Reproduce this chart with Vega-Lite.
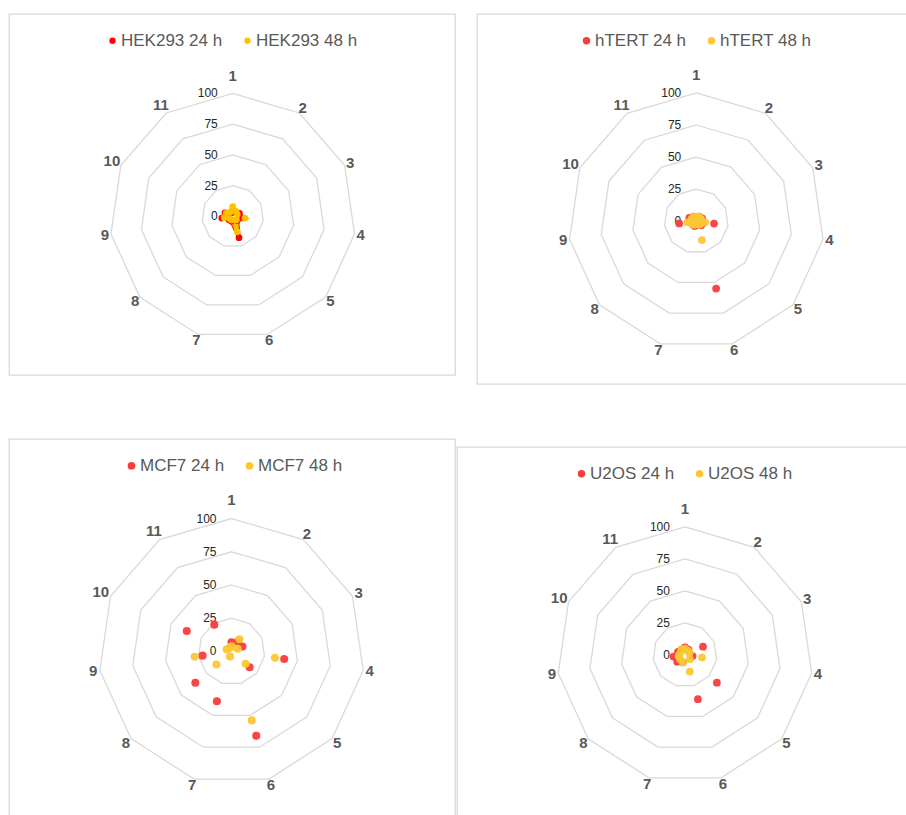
{
  "$schema": "https://vega.github.io/schema/vega-lite/v6.json",
  "padding": {"left": 8, "top": 13, "right": 0, "bottom": 0},
  "background": "white",
  "config": {
    "view": {"stroke": "#d9d9d9", "strokeWidth": 1.3},
    "font": "Liberation Sans"
  },
  "datasets": {
    "grid": [
      {"ring": 25, "spoke": [1, 2, 3, 4, 5, 6, 7, 8, 9, 10, 11]},
      {"ring": 50, "spoke": [1, 2, 3, 4, 5, 6, 7, 8, 9, 10, 11]},
      {"ring": 75, "spoke": [1, 2, 3, 4, 5, 6, 7, 8, 9, 10, 11]},
      {"ring": 100, "spoke": [1, 2, 3, 4, 5, 6, 7, 8, 9, 10, 11]}
    ],
    "rings": [{"ring": 0}, {"ring": 25}, {"ring": 50}, {"ring": 75}, {"ring": 100}],
    "spokes": [{"spoke": 1}, {"spoke": 2}, {"spoke": 3}, {"spoke": 4}, {"spoke": 5}, {"spoke": 6}, {"spoke": 7}, {"spoke": 8}, {"spoke": 9}, {"spoke": 10}, {"spoke": 11}],
    "points": [
      {"panel": "HEK293", "series": "HEK293 24 h", "spoke": 1, "value": 5},
      {"panel": "HEK293", "series": "HEK293 24 h", "spoke": 2, "value": 4},
      {"panel": "HEK293", "series": "HEK293 24 h", "spoke": 3, "value": 6},
      {"panel": "HEK293", "series": "HEK293 24 h", "spoke": 4, "value": 8},
      {"panel": "HEK293", "series": "HEK293 24 h", "spoke": 5, "value": 5},
      {"panel": "HEK293", "series": "HEK293 24 h", "spoke": 6, "value": 18},
      {"panel": "HEK293", "series": "HEK293 24 h", "spoke": 7, "value": 4},
      {"panel": "HEK293", "series": "HEK293 24 h", "spoke": 8, "value": 4},
      {"panel": "HEK293", "series": "HEK293 24 h", "spoke": 9, "value": 9},
      {"panel": "HEK293", "series": "HEK293 24 h", "spoke": 10, "value": 7},
      {"panel": "HEK293", "series": "HEK293 24 h", "spoke": 11, "value": 3},
      {"panel": "HEK293", "series": "HEK293 48 h", "spoke": 1, "value": 8},
      {"panel": "HEK293", "series": "HEK293 48 h", "spoke": 2, "value": 5},
      {"panel": "HEK293", "series": "HEK293 48 h", "spoke": 3, "value": 4},
      {"panel": "HEK293", "series": "HEK293 48 h", "spoke": 4, "value": 10},
      {"panel": "HEK293", "series": "HEK293 48 h", "spoke": 5, "value": 4},
      {"panel": "HEK293", "series": "HEK293 48 h", "spoke": 6, "value": 13},
      {"panel": "HEK293", "series": "HEK293 48 h", "spoke": 7, "value": 3},
      {"panel": "HEK293", "series": "HEK293 48 h", "spoke": 8, "value": 3},
      {"panel": "HEK293", "series": "HEK293 48 h", "spoke": 9, "value": 7},
      {"panel": "HEK293", "series": "HEK293 48 h", "spoke": 10, "value": 6},
      {"panel": "HEK293", "series": "HEK293 48 h", "spoke": 11, "value": 4},
      {"panel": "hTERT", "series": "hTERT 24 h", "spoke": 1, "value": 3},
      {"panel": "hTERT", "series": "hTERT 24 h", "spoke": 2, "value": 4},
      {"panel": "hTERT", "series": "hTERT 24 h", "spoke": 3, "value": 5},
      {"panel": "hTERT", "series": "hTERT 24 h", "spoke": 4, "value": 14},
      {"panel": "hTERT", "series": "hTERT 24 h", "spoke": 5, "value": 5},
      {"panel": "hTERT", "series": "hTERT 24 h", "spoke": 6, "value": 55},
      {"panel": "hTERT", "series": "hTERT 24 h", "spoke": 7, "value": 4},
      {"panel": "hTERT", "series": "hTERT 24 h", "spoke": 8, "value": 4},
      {"panel": "hTERT", "series": "hTERT 24 h", "spoke": 9, "value": 13.5},
      {"panel": "hTERT", "series": "hTERT 24 h", "spoke": 10, "value": 6},
      {"panel": "hTERT", "series": "hTERT 24 h", "spoke": 11, "value": 4},
      {"panel": "hTERT", "series": "hTERT 48 h", "spoke": 1, "value": 3},
      {"panel": "hTERT", "series": "hTERT 48 h", "spoke": 2, "value": 4},
      {"panel": "hTERT", "series": "hTERT 48 h", "spoke": 3, "value": 4},
      {"panel": "hTERT", "series": "hTERT 48 h", "spoke": 4, "value": 7},
      {"panel": "hTERT", "series": "hTERT 48 h", "spoke": 5, "value": 4},
      {"panel": "hTERT", "series": "hTERT 48 h", "spoke": 6, "value": 15.5},
      {"panel": "hTERT", "series": "hTERT 48 h", "spoke": 7, "value": 3},
      {"panel": "hTERT", "series": "hTERT 48 h", "spoke": 8, "value": 4},
      {"panel": "hTERT", "series": "hTERT 48 h", "spoke": 9, "value": 7},
      {"panel": "hTERT", "series": "hTERT 48 h", "spoke": 10, "value": 4},
      {"panel": "hTERT", "series": "hTERT 48 h", "spoke": 11, "value": 4},
      {"panel": "MCF7", "series": "MCF7 24 h", "spoke": 1, "value": 7},
      {"panel": "MCF7", "series": "MCF7 24 h", "spoke": 2, "value": 9},
      {"panel": "MCF7", "series": "MCF7 24 h", "spoke": 3, "value": 9},
      {"panel": "MCF7", "series": "MCF7 24 h", "spoke": 4, "value": 40},
      {"panel": "MCF7", "series": "MCF7 24 h", "spoke": 5, "value": 18},
      {"panel": "MCF7", "series": "MCF7 24 h", "spoke": 6, "value": 66},
      {"panel": "MCF7", "series": "MCF7 24 h", "spoke": 7, "value": 39},
      {"panel": "MCF7", "series": "MCF7 24 h", "spoke": 8, "value": 36},
      {"panel": "MCF7", "series": "MCF7 24 h", "spoke": 9, "value": 22},
      {"panel": "MCF7", "series": "MCF7 24 h", "spoke": 10, "value": 37},
      {"panel": "MCF7", "series": "MCF7 24 h", "spoke": 11, "value": 24},
      {"panel": "MCF7", "series": "MCF7 48 h", "spoke": 1, "value": 4},
      {"panel": "MCF7", "series": "MCF7 48 h", "spoke": 2, "value": 11},
      {"panel": "MCF7", "series": "MCF7 48 h", "spoke": 3, "value": 5},
      {"panel": "MCF7", "series": "MCF7 48 h", "spoke": 4, "value": 33},
      {"panel": "MCF7", "series": "MCF7 48 h", "spoke": 5, "value": 14},
      {"panel": "MCF7", "series": "MCF7 48 h", "spoke": 6, "value": 54},
      {"panel": "MCF7", "series": "MCF7 48 h", "spoke": 7, "value": 4},
      {"panel": "MCF7", "series": "MCF7 48 h", "spoke": 8, "value": 15},
      {"panel": "MCF7", "series": "MCF7 48 h", "spoke": 9, "value": 28},
      {"panel": "MCF7", "series": "MCF7 48 h", "spoke": 10, "value": 4},
      {"panel": "MCF7", "series": "MCF7 48 h", "spoke": 11, "value": 3},
      {"panel": "U2OS", "series": "U2OS 24 h", "spoke": 1, "value": 6},
      {"panel": "U2OS", "series": "U2OS 24 h", "spoke": 2, "value": 5},
      {"panel": "U2OS", "series": "U2OS 24 h", "spoke": 3, "value": 15.5},
      {"panel": "U2OS", "series": "U2OS 24 h", "spoke": 4, "value": 6},
      {"panel": "U2OS", "series": "U2OS 24 h", "spoke": 5, "value": 33},
      {"panel": "U2OS", "series": "U2OS 24 h", "spoke": 6, "value": 36},
      {"panel": "U2OS", "series": "U2OS 24 h", "spoke": 7, "value": 6},
      {"panel": "U2OS", "series": "U2OS 24 h", "spoke": 8, "value": 8},
      {"panel": "U2OS", "series": "U2OS 24 h", "spoke": 9, "value": 9},
      {"panel": "U2OS", "series": "U2OS 24 h", "spoke": 10, "value": 6},
      {"panel": "U2OS", "series": "U2OS 24 h", "spoke": 11, "value": 5},
      {"panel": "U2OS", "series": "U2OS 48 h", "spoke": 1, "value": 5},
      {"panel": "U2OS", "series": "U2OS 48 h", "spoke": 2, "value": 4},
      {"panel": "U2OS", "series": "U2OS 48 h", "spoke": 3, "value": 4},
      {"panel": "U2OS", "series": "U2OS 48 h", "spoke": 4, "value": 13.5},
      {"panel": "U2OS", "series": "U2OS 48 h", "spoke": 5, "value": 5},
      {"panel": "U2OS", "series": "U2OS 48 h", "spoke": 6, "value": 13.5},
      {"panel": "U2OS", "series": "U2OS 48 h", "spoke": 7, "value": 6},
      {"panel": "U2OS", "series": "U2OS 48 h", "spoke": 8, "value": 5},
      {"panel": "U2OS", "series": "U2OS 48 h", "spoke": 9, "value": 5},
      {"panel": "U2OS", "series": "U2OS 48 h", "spoke": 10, "value": 4},
      {"panel": "U2OS", "series": "U2OS 48 h", "spoke": 11, "value": 5}
    ]
  },
  "spacing": 51,
  "resolve": {"scale": {"color": "independent"}, "legend": {"color": "independent"}},
  "vconcat": [
    {
      "spacing": 20,
      "resolve": {"scale": {"color": "independent"}, "legend": {"color": "independent"}},
      "hconcat": [
        {
          "width": 446, "height": 361,
          "encoding": {
            "x": {"field": "x", "type": "quantitative", "scale": {"domain": [-181.9, 180.7], "nice": false, "zero": false}, "axis": null},
            "y": {"field": "y", "type": "quantitative", "scale": {"domain": [-128.9, 164.6], "nice": false, "zero": false}, "axis": null}
          },
          "layer": [
            {
              "data": {"name": "grid"},
              "transform": [{"flatten": ["spoke"]}, {"calculate": "(datum.spoke-1)*2*PI/11", "as": "a"}, {"calculate": "datum.ring*sin(datum.a)", "as": "x"}, {"calculate": "datum.ring*cos(datum.a)", "as": "y"}],
              "mark": {"type": "line", "interpolate": "linear-closed", "stroke": "#d9d9d9", "strokeWidth": 1.3},
              "encoding": {"detail": {"field": "ring"}, "order": {"field": "spoke"}}
            },
            {
              "data": {"name": "rings"},
              "transform": [{"calculate": "0", "as": "x"}, {"calculate": "datum.ring", "as": "y"}],
              "mark": {"type": "text", "align": "right", "baseline": "middle", "dx": -15, "fontSize": 12, "color": "#262626"},
              "encoding": {"text": {"field": "ring"}}
            },
            {
              "data": {"name": "spokes"},
              "transform": [{"calculate": "(datum.spoke-1)*2*PI/11", "as": "a"}, {"calculate": "105 + (datum.spoke == 1 ? 9 : 0) + (datum.spoke >= 10 ? 3 : 0)", "as": "r"}, {"calculate": "datum.r*sin(datum.a)", "as": "x"}, {"calculate": "datum.r*cos(datum.a)", "as": "y"}],
              "mark": {"type": "text", "align": "center", "baseline": "middle", "fontSize": 15, "fontWeight": "bold", "color": "#595959"},
              "encoding": {"text": {"field": "spoke"}}
            },
            {
              "data": {"name": "points"},
              "transform": [{"filter": "datum.panel == 'HEK293'"}, {"calculate": "(datum.spoke-1)*2*PI/11", "as": "a"}, {"calculate": "datum.value*sin(datum.a)", "as": "x"}, {"calculate": "datum.value*cos(datum.a)", "as": "y"}],
              "mark": {"type": "line", "interpolate": "linear-closed", "strokeWidth": 3.5},
              "encoding": {
                "stroke": {"field": "series", "type": "nominal", "scale": {"domain": ["HEK293 24 h", "HEK293 48 h"], "range": ["#ff0000", "#ffc000"]}, "legend": null},
                "order": {"field": "spoke"}
              }
            },
            {
              "data": {"name": "points"},
              "transform": [{"filter": "datum.panel == 'HEK293'"}, {"calculate": "(datum.spoke-1)*2*PI/11", "as": "a"}, {"calculate": "datum.value*sin(datum.a)", "as": "x"}, {"calculate": "datum.value*cos(datum.a)", "as": "y"}],
              "mark": {"type": "point", "filled": true, "size": 45, "opacity": 1, "strokeWidth": 0},
              "encoding": {
                "color": {"field": "series", "type": "nominal", "scale": {"domain": ["HEK293 24 h", "HEK293 48 h"], "range": ["#ff0000", "#ffc000"]},
                  "legend": {"orient": "none", "legendX": 95, "legendY": 18, "direction": "horizontal", "title": null, "symbolType": "circle", "symbolSize": 40, "symbolOpacity": 1, "symbolStrokeWidth": 0, "labelFontSize": 17, "labelColor": "#595959", "labelFont": "Liberation Sans", "columnPadding": 16, "labelOffset": 0}}
              }
            }
          ]
        },
        {
          "width": 446, "height": 370,
          "encoding": {
            "x": {"field": "x", "type": "quantitative", "scale": {"domain": [-171.3, 177.1], "nice": false, "zero": false}, "axis": null},
            "y": {"field": "y", "type": "quantitative", "scale": {"domain": [-127.3, 161.7], "nice": false, "zero": false}, "axis": null}
          },
          "layer": [
            {
              "data": {"name": "grid"},
              "transform": [{"flatten": ["spoke"]}, {"calculate": "(datum.spoke-1)*2*PI/11", "as": "a"}, {"calculate": "datum.ring*sin(datum.a)", "as": "x"}, {"calculate": "datum.ring*cos(datum.a)", "as": "y"}],
              "mark": {"type": "line", "interpolate": "linear-closed", "stroke": "#d9d9d9", "strokeWidth": 1.3},
              "encoding": {"detail": {"field": "ring"}, "order": {"field": "spoke"}}
            },
            {
              "data": {"name": "rings"},
              "transform": [{"calculate": "0", "as": "x"}, {"calculate": "datum.ring", "as": "y"}],
              "mark": {"type": "text", "align": "right", "baseline": "middle", "dx": -15, "fontSize": 12, "color": "#262626"},
              "encoding": {"text": {"field": "ring"}}
            },
            {
              "data": {"name": "spokes"},
              "transform": [{"calculate": "(datum.spoke-1)*2*PI/11", "as": "a"}, {"calculate": "105 + (datum.spoke == 1 ? 9 : 0) + (datum.spoke >= 10 ? 3 : 0)", "as": "r"}, {"calculate": "datum.r*sin(datum.a)", "as": "x"}, {"calculate": "datum.r*cos(datum.a)", "as": "y"}],
              "mark": {"type": "text", "align": "center", "baseline": "middle", "fontSize": 15, "fontWeight": "bold", "color": "#595959"},
              "encoding": {"text": {"field": "spoke"}}
            },
            {
              "data": {"name": "points"},
              "transform": [{"filter": "datum.panel == 'hTERT'"}, {"calculate": "(datum.spoke-1)*2*PI/11", "as": "a"}, {"calculate": "datum.value*sin(datum.a)", "as": "x"}, {"calculate": "datum.value*cos(datum.a)", "as": "y"}],
              "mark": {"type": "point", "filled": true, "size": 60, "opacity": 0.95, "strokeWidth": 0},
              "encoding": {
                "color": {"field": "series", "type": "nominal", "scale": {"domain": ["hTERT 24 h", "hTERT 48 h"], "range": ["#f93b3b", "#fdc733"]},
                  "legend": {"orient": "none", "legendX": 101, "legendY": 18, "direction": "horizontal", "title": null, "symbolType": "circle", "symbolSize": 55, "symbolOpacity": 1, "symbolStrokeWidth": 0, "labelFontSize": 17, "labelColor": "#595959", "labelFont": "Liberation Sans", "columnPadding": 16, "labelOffset": 0}}
              }
            }
          ]
        }
      ]
    },
    {
      "spacing": 0,
      "resolve": {"scale": {"color": "independent"}, "legend": {"color": "independent"}},
      "hconcat": [
        {
          "width": 446, "height": 390,
          "encoding": {
            "x": {"field": "x", "type": "quantitative", "scale": {"domain": [-167.3, 168.0], "nice": false, "zero": false}, "axis": null},
            "y": {"field": "y", "type": "quantitative", "scale": {"domain": [-133.5, 159.8], "nice": false, "zero": false}, "axis": null}
          },
          "layer": [
            {
              "data": {"name": "grid"},
              "transform": [{"flatten": ["spoke"]}, {"calculate": "(datum.spoke-1)*2*PI/11", "as": "a"}, {"calculate": "datum.ring*sin(datum.a)", "as": "x"}, {"calculate": "datum.ring*cos(datum.a)", "as": "y"}],
              "mark": {"type": "line", "interpolate": "linear-closed", "stroke": "#d9d9d9", "strokeWidth": 1.3},
              "encoding": {"detail": {"field": "ring"}, "order": {"field": "spoke"}}
            },
            {
              "data": {"name": "rings"},
              "transform": [{"calculate": "0", "as": "x"}, {"calculate": "datum.ring", "as": "y"}],
              "mark": {"type": "text", "align": "right", "baseline": "middle", "dx": -15, "fontSize": 12, "color": "#262626"},
              "encoding": {"text": {"field": "ring"}}
            },
            {
              "data": {"name": "spokes"},
              "transform": [{"calculate": "(datum.spoke-1)*2*PI/11", "as": "a"}, {"calculate": "105 + (datum.spoke == 1 ? 9 : 0) + (datum.spoke >= 10 ? 3 : 0)", "as": "r"}, {"calculate": "datum.r*sin(datum.a)", "as": "x"}, {"calculate": "datum.r*cos(datum.a)", "as": "y"}],
              "mark": {"type": "text", "align": "center", "baseline": "middle", "fontSize": 15, "fontWeight": "bold", "color": "#595959"},
              "encoding": {"text": {"field": "spoke"}}
            },
            {
              "data": {"name": "points"},
              "transform": [{"filter": "datum.panel == 'MCF7'"}, {"calculate": "(datum.spoke-1)*2*PI/11", "as": "a"}, {"calculate": "datum.value*sin(datum.a)", "as": "x"}, {"calculate": "datum.value*cos(datum.a)", "as": "y"}],
              "mark": {"type": "point", "filled": true, "size": 65, "opacity": 0.95, "strokeWidth": 0},
              "encoding": {
                "color": {"field": "series", "type": "nominal", "scale": {"domain": ["MCF7 24 h", "MCF7 48 h"], "range": ["#f93b3b", "#fdc733"]},
                  "legend": {"orient": "none", "legendX": 114, "legendY": 18, "direction": "horizontal", "title": null, "symbolType": "circle", "symbolSize": 60, "symbolOpacity": 1, "symbolStrokeWidth": 0, "labelFontSize": 17, "labelColor": "#595959", "labelFont": "Liberation Sans", "columnPadding": 16, "labelOffset": 0}}
              }
            }
          ]
        },
        {
          "spacing": 3,
          "resolve": {"scale": {"color": "independent"}, "legend": {"color": "independent"}},
          "vconcat": [
            {
              "width": 460, "height": 1,
              "view": {"stroke": null},
              "data": {"values": [{"v": 0}]},
              "mark": {"type": "point", "opacity": 0},
              "encoding": {}
            },
            {
              "width": 460, "height": 380,
              "encoding": {
                "x": {"field": "x", "type": "quantitative", "scale": {"domain": [-178.1, 181.3], "nice": false, "zero": false}, "axis": null},
                "y": {"field": "y", "type": "quantitative", "scale": {"domain": [-134.4, 162.5], "nice": false, "zero": false}, "axis": null}
              },
              "layer": [
                {
                  "data": {"name": "grid"},
                  "transform": [{"flatten": ["spoke"]}, {"calculate": "(datum.spoke-1)*2*PI/11", "as": "a"}, {"calculate": "datum.ring*sin(datum.a)", "as": "x"}, {"calculate": "datum.ring*cos(datum.a)", "as": "y"}],
                  "mark": {"type": "line", "interpolate": "linear-closed", "stroke": "#d9d9d9", "strokeWidth": 1.3},
                  "encoding": {"detail": {"field": "ring"}, "order": {"field": "spoke"}}
                },
                {
                  "data": {"name": "rings"},
                  "transform": [{"calculate": "0", "as": "x"}, {"calculate": "datum.ring", "as": "y"}],
                  "mark": {"type": "text", "align": "right", "baseline": "middle", "dx": -15, "fontSize": 12, "color": "#262626"},
                  "encoding": {"text": {"field": "ring"}}
                },
                {
                  "data": {"name": "spokes"},
                  "transform": [{"calculate": "(datum.spoke-1)*2*PI/11", "as": "a"}, {"calculate": "105 + (datum.spoke == 1 ? 9 : 0) + (datum.spoke >= 10 ? 3 : 0)", "as": "r"}, {"calculate": "datum.r*sin(datum.a)", "as": "x"}, {"calculate": "datum.r*cos(datum.a)", "as": "y"}],
                  "mark": {"type": "text", "align": "center", "baseline": "middle", "fontSize": 15, "fontWeight": "bold", "color": "#595959"},
                  "encoding": {"text": {"field": "spoke"}}
                },
                {
                  "data": {"name": "points"},
                  "transform": [{"filter": "datum.panel == 'U2OS'"}, {"calculate": "(datum.spoke-1)*2*PI/11", "as": "a"}, {"calculate": "datum.value*sin(datum.a)", "as": "x"}, {"calculate": "datum.value*cos(datum.a)", "as": "y"}],
                  "mark": {"type": "point", "filled": true, "size": 60, "opacity": 0.95, "strokeWidth": 0},
                  "encoding": {
                    "color": {"field": "series", "type": "nominal", "scale": {"domain": ["U2OS 24 h", "U2OS 48 h"], "range": ["#f93b3b", "#fdc733"]},
                      "legend": {"orient": "none", "legendX": 116, "legendY": 18, "direction": "horizontal", "title": null, "symbolType": "circle", "symbolSize": 55, "symbolOpacity": 1, "symbolStrokeWidth": 0, "labelFontSize": 17, "labelColor": "#595959", "labelFont": "Liberation Sans", "columnPadding": 16, "labelOffset": 0}}
                  }
                }
              ]
            }
          ]
        }
      ]
    }
  ]
}
